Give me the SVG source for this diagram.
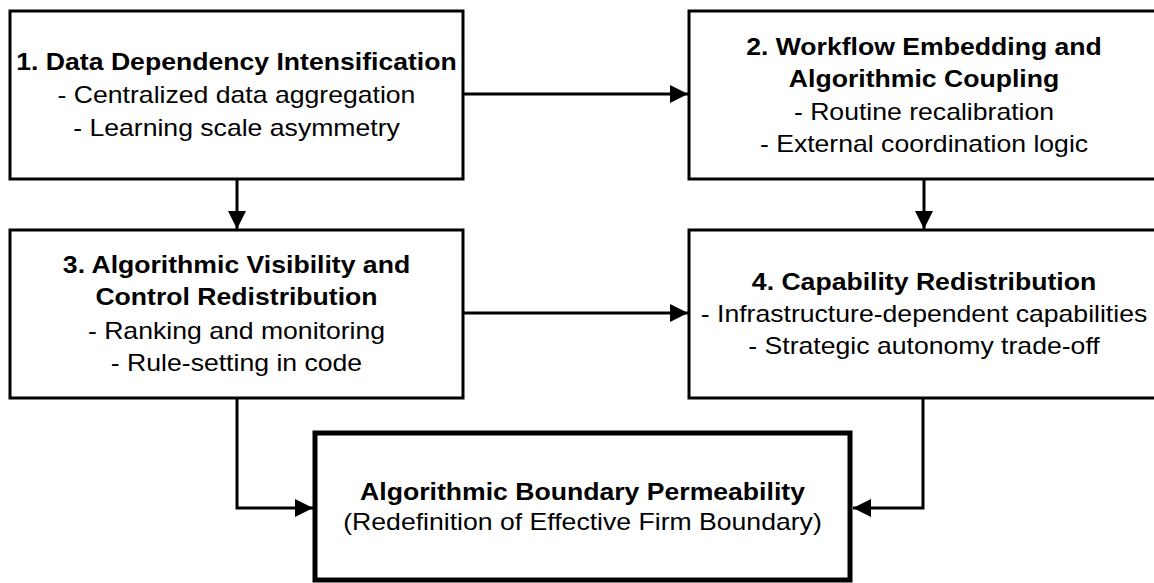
<svg xmlns="http://www.w3.org/2000/svg" width="1154" height="583" viewBox="0 0 1154 583">
  <defs>
    <style>
      .box { fill: #ffffff; stroke: #000000; stroke-width: 3; }
      .main { fill: #ffffff; stroke: #000000; stroke-width: 5; }
      .conn { fill: none; stroke: #000000; stroke-width: 3; }
      text { font-family: "Liberation Sans", Arial, Helvetica, sans-serif; font-size: 23px; fill: #000000; text-anchor: middle; }
      .b { font-weight: bold; }
    </style>
    <marker id="arrow" markerUnits="userSpaceOnUse" markerWidth="18" markerHeight="18" refX="18" refY="9" orient="auto">
      <path d="M0,0 L18,9 L0,18 Z" fill="#000000"/>
    </marker>
  </defs>
  <rect x="0" y="0" width="1154" height="583" fill="#ffffff"/>

  <g id="connectors">
    <line class="conn" x1="463" y1="94" x2="688" y2="94" marker-end="url(#arrow)"/>
    <line class="conn" x1="237" y1="179" x2="237" y2="229" marker-end="url(#arrow)"/>
    <line class="conn" x1="924" y1="179" x2="924" y2="229" marker-end="url(#arrow)"/>
    <line class="conn" x1="463" y1="313" x2="688" y2="313" marker-end="url(#arrow)"/>
    <polyline class="conn" points="237,398 237,508 313,508" marker-end="url(#arrow)"/>
    <polyline class="conn" points="923,398 923,508 853,508" marker-end="url(#arrow)"/>
  </g>

  <g id="node1">
    <rect class="box" x="10" y="11" width="453" height="168"/>
    <g transform="translate(236.5 0) scale(1.157 1)">
      <text class="b" x="0" y="70">1. Data Dependency Intensification</text>
      <text x="0" y="103">- Centralized data aggregation</text>
      <text x="0" y="136">- Learning scale asymmetry</text>
    </g>
  </g>

  <g id="node2">
    <rect class="box" x="689" y="11" width="470" height="168"/>
    <g transform="translate(924 0) scale(1.157 1)">
      <text class="b" x="0" y="55">2. Workflow Embedding and</text>
      <text class="b" x="0" y="87">Algorithmic Coupling</text>
      <text x="0" y="120">- Routine recalibration</text>
      <text x="0" y="152">- External coordination logic</text>
    </g>
  </g>

  <g id="node3">
    <rect class="box" x="10" y="230" width="453" height="168"/>
    <g transform="translate(236.5 0) scale(1.157 1)">
      <text class="b" x="0" y="273">3. Algorithmic Visibility and</text>
      <text class="b" x="0" y="305">Control Redistribution</text>
      <text x="0" y="339">- Ranking and monitoring</text>
      <text x="0" y="371">- Rule-setting in code</text>
    </g>
  </g>

  <g id="node4">
    <rect class="box" x="689" y="230" width="470" height="168"/>
    <g transform="translate(924 0) scale(1.157 1)">
      <text class="b" x="0" y="290">4. Capability Redistribution</text>
      <text x="0" y="322">- Infrastructure-dependent capabilities</text>
      <text x="0" y="354">- Strategic autonomy trade-off</text>
    </g>
  </g>

  <g id="node5">
    <rect class="main" x="315" y="433" width="535" height="147"/>
    <g transform="translate(582.5 0) scale(1.157 1)">
      <text class="b" x="0" y="500">Algorithmic Boundary Permeability</text>
      <text x="0" y="530">(Redefinition of Effective Firm Boundary)</text>
    </g>
  </g>
</svg>
